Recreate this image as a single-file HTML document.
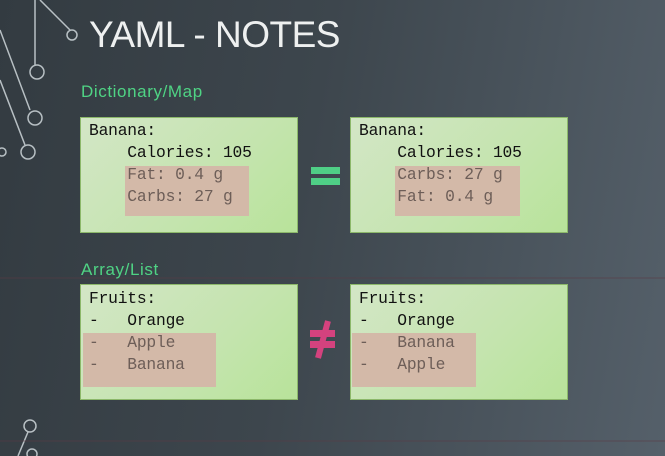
<!DOCTYPE html>
<html><head><style>
body{margin:0;width:665px;height:456px;overflow:hidden;background:linear-gradient(100deg,#333b41 0%,#3d464d 45%,#55606a 100%);position:relative;font-family:"Liberation Sans",sans-serif}
.t{position:absolute;left:89px;top:14px;color:#eef0f0;font-size:37px;letter-spacing:-0.5px}
.lab{position:absolute;color:#4fd384;font-size:17px;letter-spacing:0.6px}
.box{position:absolute;width:218px;height:116px;background:linear-gradient(135deg,#d3e6c6,#c4e4ae 60%,#b8e39a);border:1px solid #8cb86a;box-sizing:border-box}
.hl{position:absolute;background:#d3b9a8}
.m{position:absolute;font-family:"Liberation Mono",monospace;font-size:16.3px;line-height:22px;white-space:pre;color:#111;letter-spacing:-0.2px}
.g{color:#6d5e58}
</style></head><body>
<svg width="665" height="456" style="position:absolute;left:0;top:0" fill="none" stroke="#b8c0c4" stroke-width="1.5">
<path d="M35 0 L35 65"/><circle cx="37" cy="72" r="7"/>
<path d="M40 0 L70 30"/><circle cx="72" cy="35" r="5"/>
<path d="M0 30 L30 110"/><circle cx="35" cy="118" r="7"/>
<path d="M0 80 L25 145"/><circle cx="28" cy="152" r="7"/>
<circle cx="2" cy="152" r="4"/>
<circle cx="30" cy="426" r="6"/><path d="M28 432 L18 456"/><circle cx="32" cy="454" r="5"/>
<path d="M0 278 L665 278" stroke="#5a3a45" stroke-width="1" opacity=".6"/>
<path d="M0 441 L665 441" stroke="#5a3a45" stroke-width="1" opacity=".6"/>
</svg>
<div class="t">YAML - NOTES</div>
<div class="lab" style="left:81px;top:82px">Dictionary/Map</div>
<div class="lab" style="left:81px;top:260px">Array/List</div>

<div class="box" style="left:80px;top:117px"></div>
<div class="hl" style="left:125px;top:166px;width:124px;height:50px"></div>
<div class="m" style="left:89px;top:120px">Banana:
    Calories: 105
    <span class="g">Fat: 0.4 g</span>
    <span class="g">Carbs: 27 g</span></div>

<div class="box" style="left:350px;top:117px"></div>
<div class="hl" style="left:395px;top:166px;width:125px;height:50px"></div>
<div class="m" style="left:359px;top:120px">Banana:
    Calories: 105
    <span class="g">Carbs: 27 g</span>
    <span class="g">Fat: 0.4 g</span></div>

<div style="position:absolute;left:311px;top:167px;width:29px;height:7px;background:#4fcf86"></div>
<div style="position:absolute;left:311px;top:178px;width:29px;height:7px;background:#4fcf86"></div>

<div class="box" style="left:80px;top:284px"></div>
<div class="hl" style="left:83px;top:333px;width:133px;height:54px"></div>
<div class="m" style="left:89px;top:288px">Fruits:
-   Orange
<span class="g">-   Apple</span>
<span class="g">-   Banana</span></div>

<div class="box" style="left:350px;top:284px"></div>
<div class="hl" style="left:352px;top:333px;width:124px;height:54px"></div>
<div class="m" style="left:359px;top:288px">Fruits:
-   Orange
<span class="g">-   Banana</span>
<span class="g">-   Apple</span></div>

<svg width="40" height="50" style="position:absolute;left:305px;top:318px">
<rect x="5" y="12" width="25" height="7" fill="#d4427e"/>
<rect x="5" y="23" width="25" height="7" fill="#d4427e"/>
<path d="M23 3 L13 40" stroke="#d4427e" stroke-width="6"/>
</svg>
</body></html>
